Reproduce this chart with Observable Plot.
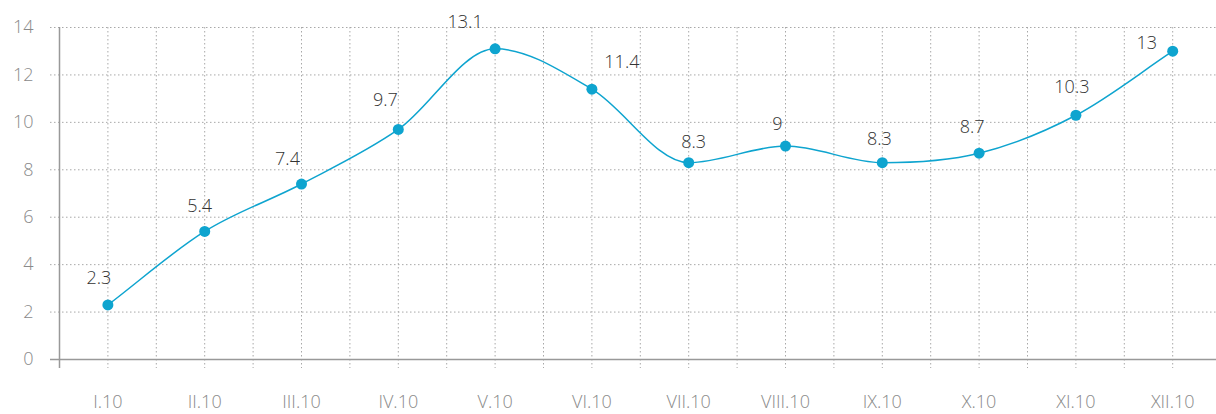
<!DOCTYPE html>
<html>
<head>
<meta charset="utf-8">
<script src="https://cdn.jsdelivr.net/npm/d3@7"></script>
<script src="https://cdn.jsdelivr.net/npm/@observablehq/plot@0.6"></script>
<style>
  html, body { margin: 0; padding: 0; background: #fff; }
</style>
</head>
<body>
<div id="chart"></div>
<script>
const categories = ["I.10","II.10","III.10","IV.10","V.10","VI.10","VII.10","VIII.10","IX.10","X.10","XI.10","XII.10"];
const values = [2.3, 5.4, 7.4, 9.7, 13.1, 11.4, 8.3, 9, 8.3, 8.7, 10.3, 13];
const yTicks = [0, 2, 4, 6, 8, 10, 12, 14];
const valueLabels = ["2.3","5.4","7.4","9.7","13.1","11.4","8.3","9","8.3","8.7","10.3","13"];
// label offsets (styling)
const labelDx = [-9, -5, -14, -13, -30, 30, 5, -8, -3, -7, -4, -26];
const labelDy = [-27, -25, -25, -29, -27, -27, -20, -22, -23, -26, -28, -8];

const data = categories.map((c, i) => ({i, c, v: values[i]}));
const idx = categories.map((_, i) => i);
const halves = categories.map((_, i) => i + 0.5);

// Custom spline curve (flat tangents at local extremes, avoids overshoot)
function splineCurve(context) {
  let pts = [];
  return {
    areaStart() {}, areaEnd() {},
    lineStart() { pts = []; },
    point(x, y) { pts.push({x: +x, y: +y}); },
    lineEnd() {
      const s = 2, den = s + 1;
      if (!pts.length) return;
      const n = pts.length;
      // compute control points for interior points
      for (let i = 1; i < n - 1; i++) {
        const p = pts[i], last = pts[i - 1], next = pts[i + 1];
        let lcx = (s * p.x + last.x) / den, lcy = (s * p.y + last.y) / den;
        let rcx = (s * p.x + next.x) / den, rcy = (s * p.y + next.y) / den;
        let corr = ((rcy - lcy) * (rcx - p.x)) / (rcx - lcx) + p.y - rcy;
        lcy += corr; rcy += corr;
        if (lcy > last.y && lcy > p.y) { lcy = Math.max(last.y, p.y); rcy = 2 * p.y - lcy; }
        else if (lcy < last.y && lcy < p.y) { lcy = Math.min(last.y, p.y); rcy = 2 * p.y - lcy; }
        if (rcy > next.y && rcy > p.y) { rcy = Math.max(next.y, p.y); lcy = 2 * p.y - rcy; }
        else if (rcy < next.y && rcy < p.y) { rcy = Math.min(next.y, p.y); lcy = 2 * p.y - rcy; }
        p.lcx = lcx; p.lcy = lcy; p.rcx = rcx; p.rcy = rcy;
      }
      if (n > 1) {
        const a = pts[0], b = pts[1];
        a.rcx = a.x + (b.x - a.x) / den; a.rcy = a.y + (b.y - a.y) / den;
        const z = pts[n - 1], y = pts[n - 2];
        z.lcx = z.x - (z.x - y.x) / den; z.lcy = z.y - (z.y - y.y) / den;
      }
      context.moveTo(pts[0].x, pts[0].y);
      for (let i = 1; i < n; i++) {
        const p = pts[i], last = pts[i - 1];
        context.bezierCurveTo(last.rcx, last.rcy, p.lcx, p.lcy, p.x, p.y);
      }
    }
  };
}

const color = "#0ea4cf";
const gridStyle = {stroke: "#a8a8a8", strokeDasharray: "1.5,2.5", strokeWidth: 1};

const labelMarks = data.map((d, k) =>
  Plot.text([d], {
    x: "i", y: "v", text: () => valueLabels[k],
    dx: labelDx[k], dy: labelDy[k],
    fill: "#333", fontSize: 18, fontWeight: 300
  })
);

const chart = Plot.plot({
  width: 1216,
  height: 414,
  marginLeft: 50,
  marginRight: 0,
  marginTop: 27,
  marginBottom: 46,
  style: {fontFamily: "'Open Sans', sans-serif", background: "#fff", fontWeight: 300},
  x: {type: "linear", domain: [-0.5, 11.5], range: [59, 1220.6], axis: null},
  y: {domain: [0, 14], range: [359, 27], axis: null},
  marks: [
    Plot.ruleY(yTicks.filter(t => t > 0), {y: d => d, ...gridStyle}),
    Plot.ruleX(idx, {x: d => d, ...gridStyle}),
    Plot.ruleX(halves, {x: d => d, ...gridStyle}),
    Plot.ruleY([0], {stroke: "#999", strokeWidth: 1.5}),
    Plot.ruleX([-0.5], {stroke: "#999", strokeWidth: 1.5}),
    Plot.axisY({ticks: yTicks, tickSize: 0, tickPadding: 17, fontSize: 18, color: "#8a8a8a", anchor: "left", label: null}),
    Plot.axisX({ticks: idx, tickFormat: i => categories[i], tickSize: 0, tickPadding: 27, fontSize: 18, color: "#8a8a8a", anchor: "bottom", label: null}),
    Plot.line(data, {x: "i", y: "v", curve: splineCurve, stroke: color, strokeWidth: 1.5}),
    Plot.dot(data, {x: "i", y: "v", r: 5.5, fill: color, stroke: "none"}),
    ...labelMarks
  ]
});
document.getElementById("chart").appendChild(chart);
</script>
</body>
</html>
